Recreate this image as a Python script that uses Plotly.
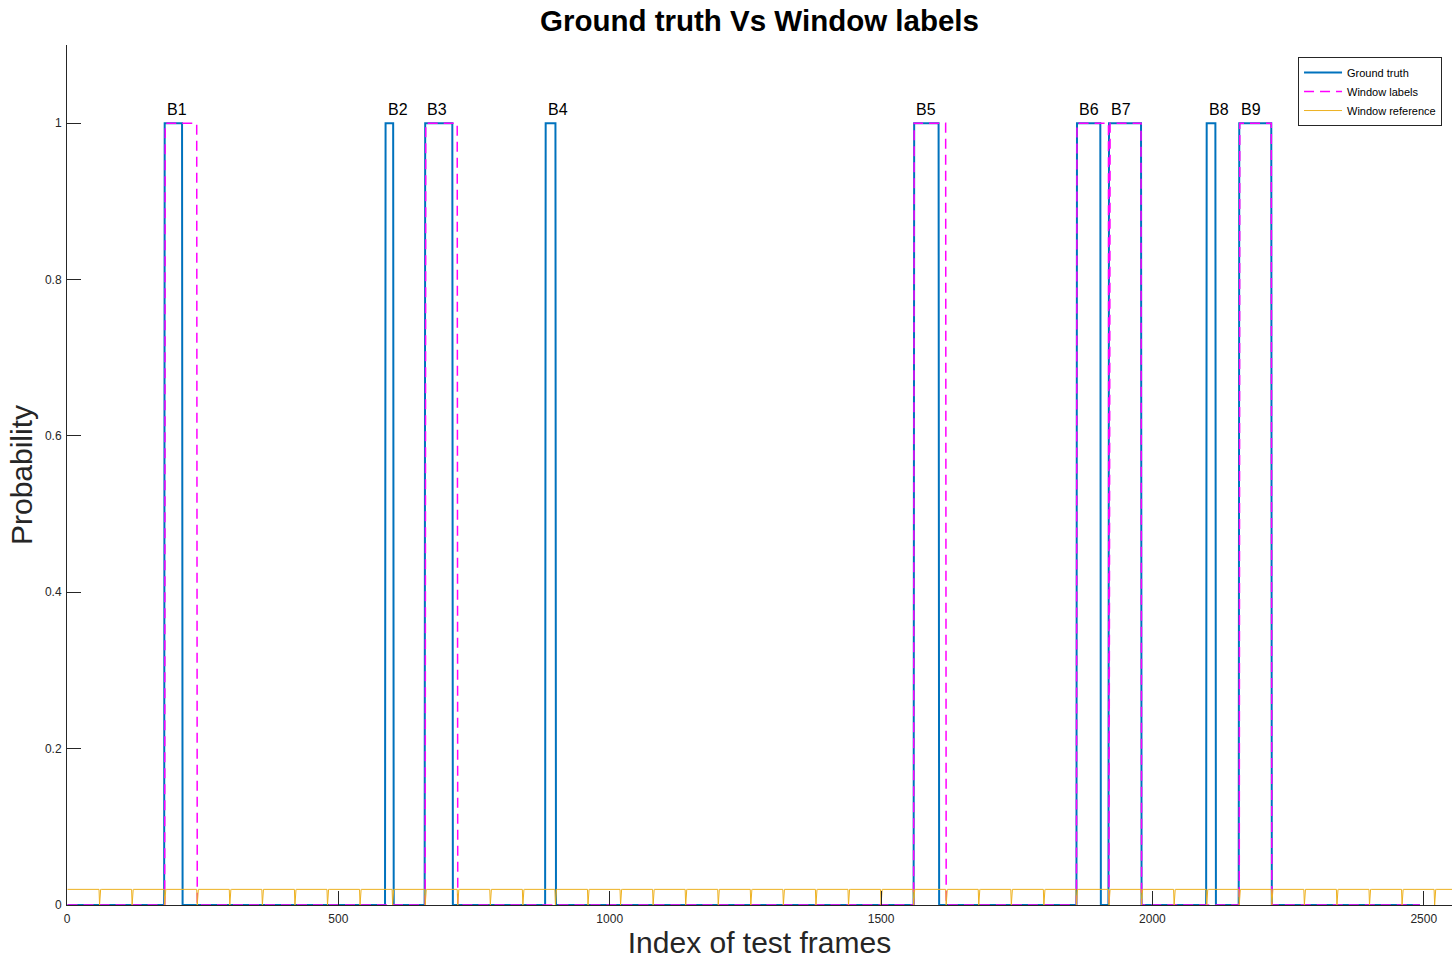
import numpy as np
import plotly.graph_objects as go

# ---- data ----
gt_onsets  = [180, 587, 660, 882, 1561, 1861, 1920, 2100, 2160]
gt_offsets = [212, 601, 710, 900, 1606, 1904, 1979, 2116, 2219]
event_names = ["B1", "B2", "B3", "B4", "B5", "B6", "B7", "B8", "B9"]

window_size = 60
window_starts = [180, 660, 1560, 1860, 1920, 2160]   # windows labelled positive
n_frames = 2493            # length of ground truth / window label series
n_ref_frames = 2552        # length of window reference series
ref_level = 0.02

x_ticks = [0, 500, 1000, 1500, 2000, 2500]
y_ticks = [0, 0.2, 0.4, 0.6, 0.8, 1]

# ---- series built from the data ----
frames = np.arange(1, n_frames + 1)
gt = np.zeros(n_frames)
for a, b in zip(gt_onsets, gt_offsets):
    gt[(frames >= a) & (frames <= b)] = 1

win = np.zeros(n_frames)
for s in window_starts:
    win[(frames > s) & (frames < s + window_size)] = 1

ref_frames = np.arange(1, n_ref_frames + 1)
ref = np.where(ref_frames % window_size == 0, 0.0, ref_level)

FONT = "Liberation Sans, Arial, Helvetica, sans-serif"
DARK = "#262626"

fig = go.Figure()
fig.add_trace(go.Scatter(x=frames, y=gt, mode="lines", name="Ground truth",
                         line=dict(color="#0072BD", width=2)))
fig.add_trace(go.Scatter(x=frames, y=win, mode="lines", name="Window labels",
                         line=dict(color="#FF00FF", width=1.5, dash="10px,6px")))
fig.add_trace(go.Scatter(x=ref_frames, y=ref, mode="lines", name="Window reference",
                         line=dict(color="#EDB120", width=1)))

for name, a in zip(event_names, gt_onsets):
    fig.add_annotation(x=a, y=1.017, text=name, showarrow=False,
                       xanchor="left", yanchor="middle",
                       font=dict(family=FONT, size=16, color="#000000"))

fig.update_layout(
    width=1453, height=959,
    margin=dict(l=67, r=1, t=45, b=54),
    paper_bgcolor="white", plot_bgcolor="white",
    font=dict(family=FONT, color=DARK),
    title=dict(text="<b>Ground truth Vs Window labels</b>", x=0.5, xref="paper",
               y=1 - 21 / 959, yref="container", xanchor="center", yanchor="middle",
               font=dict(family=FONT, size=29.5, color="#000000")),
    showlegend=True,
    legend=dict(x=0.9928, y=0.986, xanchor="right", yanchor="top",
                bgcolor="white", bordercolor=DARK, borderwidth=1,
                font=dict(family=FONT, size=11, color="#000000"),
                itemwidth=38, tracegroupgap=0),
    xaxis=dict(range=[0, 2552], tickvals=x_ticks, ticktext=[str(v) for v in x_ticks],
               ticks="inside", ticklen=14, tickcolor=DARK, tickwidth=1,
               showline=True, linecolor=DARK, linewidth=1, showgrid=False, zeroline=False,
               tickfont=dict(family=FONT, size=12, color=DARK), ticklabelstandoff=3,
               automargin=False,
               title=dict(text="Index of test frames", standoff=3,
                          font=dict(family=FONT, size=30, color=DARK))),
    yaxis=dict(range=[0, 1.1], tickvals=y_ticks, ticktext=["0", "0.2", "0.4", "0.6", "0.8", "1"],
               ticks="inside", ticklen=14, tickcolor=DARK, tickwidth=1,
               showline=True, linecolor=DARK, linewidth=1, showgrid=False, zeroline=False,
               tickfont=dict(family=FONT, size=12, color=DARK), ticklabelstandoff=2,
               automargin=False,
               title=dict(text="Probability", standoff=3,
                          font=dict(family=FONT, size=30, color=DARK))),
)

fig.write_html("out.html", config={"displayModeBar": False},
               post_script="document.body.style.margin='0';document.body.style.overflow='hidden';")
